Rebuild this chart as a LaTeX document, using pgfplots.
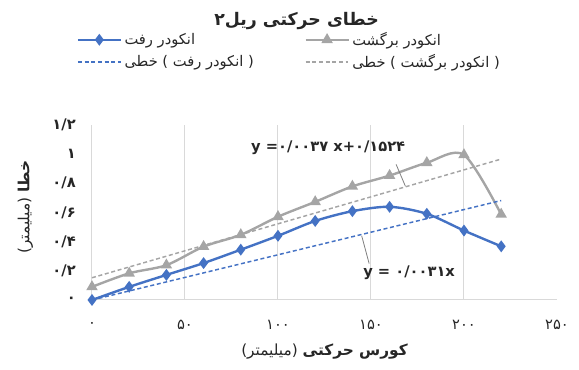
\documentclass[border=0pt]{standalone}
\usepackage{fontspec}
\setmainfont{DejaVu Sans}[Script=Arabic]
\TeXXeTstate=1
\usepackage{pgfplots}
\pgfplotsset{compat=1.18}

\definecolor{rafBlue}{HTML}{4472C4}
\definecolor{bargGray}{HTML}{A5A5A5}
\definecolor{gridGray}{HTML}{D9D9D9}
\definecolor{txtGray}{HTML}{262626}
\definecolor{leadGray}{HTML}{7F7F7F}

\newcommand{\fs}[1]{\fontsize{#1}{#1}\selectfont}
\newcommand{\w}[1]{\hbox{#1}}

\begin{document}
\begin{tikzpicture}
\begin{axis}[
  scale only axis,
  width=348.75pt, height=131.25pt,
  xmin=0, xmax=250, ymin=0, ymax=1.2,
  axis lines*=left,
  x axis line style={gridGray, line width=0.75pt},
  y axis line style={draw=none},
  tick style={draw=none},
  xtick={0,50,100,150,200},
  xticklabels={۰,۵۰,۱۰۰,۱۵۰,۲۰۰},
  extra x ticks={250},
  extra x tick labels={۲۵۰},
  extra x tick style={grid=none},
  ytick={0,0.2,0.4,0.6,0.8,1,1.2},
  yticklabels={۰,۰/۲,۰/۴,۰/۶,۰/۸,۱,۱/۲},
  xmajorgrids,
  major grid style={gridGray, line width=0.75pt},
  xticklabel style={font=\fs{11}, text=txtGray, anchor=center, yshift=-18.75pt},
  yticklabel style={font=\fs{11}\bfseries, text=txtGray, anchor=east, inner sep=0pt, xshift=-12pt},
  title={\beginR خطای حرکتی ریل۲\endR},
  title style={font=\fs{13}\bfseries, text=txtGray, at={(0.44,1)}, anchor=center, yshift=72pt},
  xlabel={\beginR\textbf{کورس حرکتی} (میلیمتر)\endR},
  xlabel style={font=\fs{11.5}, text=txtGray, at={(0.5,0)}, anchor=center, yshift=-39pt},
  ylabel={\beginR\textbf{خطا} (میلیمتر)\endR},
  ylabel style={font=\fs{11.5}, text=txtGray, at={(-0.143,0.53)}, anchor=center},
  legend columns=2,
  legend style={draw=none, fill=none, font=\fs{11}, text=txtGray,
    at={(0.425,1)}, anchor=center, yshift=55.5pt,
    /tikz/every even column/.append style={column sep=36pt},
    row sep=1.5pt},
  legend cell align=left,
  legend image code/.code={\draw[mark repeat=2, mark phase=2, #1] plot coordinates {(0pt,0pt) (16pt,0pt) (32pt,0pt)};},
]
% encoder forward
\addplot[rafBlue, line width=1.8pt, smooth, mark=diamond*, mark size=3pt, mark options={solid, fill=rafBlue}]
  coordinates {(0,0) (20,0.090) (40,0.172) (60,0.253) (80,0.345) (100,0.440)
               (120,0.542) (140,0.609) (160,0.639) (180,0.591) (200,0.476) (220,0.368)};
% encoder return
\addplot[bargGray, line width=1.8pt, smooth, mark=triangle*, mark size=3.2pt, mark options={solid, fill=bargGray}]
  coordinates {(0,0.090) (20,0.183) (40,0.239) (60,0.366) (80,0.447) (100,0.571)
               (120,0.673) (140,0.779) (160,0.853) (180,0.941) (200,0.995) (220,0.587)};
% linear trends
\addplot[rafBlue, line width=1.1pt, dash pattern=on 3pt off 2pt]
  coordinates {(0,0) (220,0.682)};
\addplot[bargGray, line width=1.1pt, dash pattern=on 3pt off 2pt]
  coordinates {(0,0.1524) (220,0.9664)};
% leader lines
\addplot[forget plot, leadGray, line width=0.6pt] coordinates {(163.5,0.93) (168.5,0.78)};
\addplot[forget plot, leadGray, line width=0.6pt] coordinates {(145,0.44) (149,0.25)};
\node[font=\fs{11}\bfseries, text=txtGray] at (axis cs:127,1.045)
  {\w{y} \w{=}\w{۰/۰۰۳۷} \w{x}\w{+}\w{۰/۱۵۲۴}};
\node[font=\fs{11}\bfseries, text=txtGray] at (axis cs:170.5,0.187)
  {\w{y} \w{=} \w{۰/۰۰۳۱}\w{x}};
\legend{\beginR انکودر رفت\endR, \beginR انکودر برگشت\endR,
  \beginR( انکودر رفت ) خطی\endR, \beginR( انکودر برگشت ) خطی\endR}
\end{axis}
\pgfresetboundingbox
\useasboundingbox (-69pt,-52.5pt) rectangle (365.25pt,225pt);
\end{tikzpicture}
\end{document}
